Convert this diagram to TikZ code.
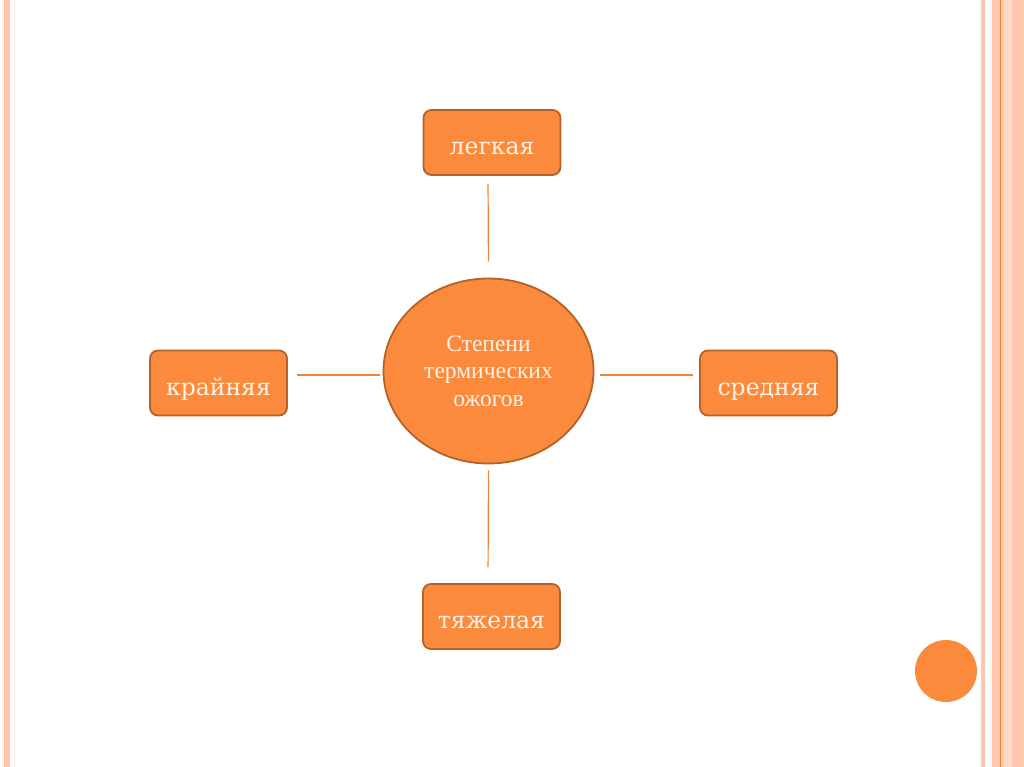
\documentclass[tikz,border=0pt]{standalone}
\usepackage{fontspec}
\setmainfont{Liberation Serif}
\newfontfamily\boxfont{DejaVu Serif}
\usetikzlibrary{shapes.geometric}
\definecolor{fillor}{HTML}{FB8A3C}
\definecolor{edgeor}{HTML}{B3622A}
\definecolor{lineor}{HTML}{F0843A}
\definecolor{txt}{HTML}{FFF2E6}
\definecolor{stripe}{HTML}{FFC6B0}
\definecolor{stripelt}{HTML}{FFD8C8}
\begin{document}
\begin{tikzpicture}[x=1pt,y=-1pt,
  degbox/.style={draw=edgeor,line width=1.8pt,fill=fillor,rounded corners=8pt,
    minimum width=137pt,minimum height=65pt,text=txt,font=\boxfont\fontsize{23.5}{26}\selectfont,
    inner sep=0pt,text height=24pt,text depth=0pt},
  hub/.style={ellipse,draw=edgeor,line width=1.8pt,fill=fillor,minimum width=210pt,minimum height=185pt,
    text=txt,align=center,font=\fontsize{23.5}{27.5}\selectfont,inner sep=0pt},
  link/.style={draw=lineor,line width=1.2pt}]
\useasboundingbox (0,0) rectangle (1024,767);
\fill[white] (0,0) rectangle (1024,767);
% left stripes
\fill[stripe] (4,0) rectangle (10,767);
\fill[stripelt!50] (1.5,0) rectangle (2.5,767);
\fill[stripelt!50] (13.5,0) rectangle (14.5,767);
% right stripes
\fill[stripe] (981,0) rectangle (985,767);
\fill[stripe] (992,0) rectangle (1024,767);
\fill[stripelt] (1003,0) rectangle (1012,767);
\draw[lineor,line width=1pt] (1000,0) -- (1000,767);
% nodes
\node[hub] (c) at (488.5,371) {Степени\\термических\\ожогов};
\node[degbox] (t) at (492,142.5) {легкая};
\node[degbox] (b) at (491.5,616.5) {тяжелая};
\node[degbox] (l) at (218.5,383) {крайняя};
\node[degbox] (r) at (768.5,383) {средняя};
\draw[link,shorten <=8pt,shorten >=16pt] ([xshift=-4pt]t.south) -- (c.north);
\draw[link,shorten <=6pt,shorten >=16pt] (c.south) -- ([xshift=-3.5pt]b.north);
\draw[link,shorten <=9pt,shorten >=3pt] ([yshift=8pt]l.east) -- ([yshift=-4pt]c.west);
\draw[link,shorten <=6pt,shorten >=6pt] ([yshift=-4pt]c.east) -- ([yshift=8pt]r.west);
% decorative dot
\fill[fillor] (946,671) circle (31);
\end{tikzpicture}
\end{document}
